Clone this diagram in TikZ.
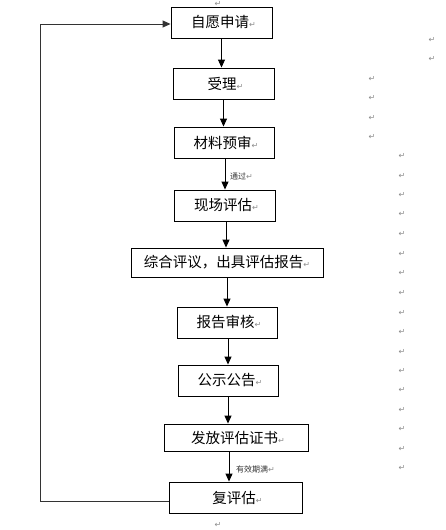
\documentclass[tikz,border=0pt]{standalone}
\usepackage{fontspec}
\setmainfont{DejaVu Sans}
\newfontfamily\cjk{Noto Sans CJK SC}
\newfontfamily\markfont{DejaVu Sans}
\usetikzlibrary{arrows.meta}
\newcommand{\pmk}{{\markfont\fontsize{8pt}{8pt}\selectfont\color{gray!90}↵}}
\tikzset{
  box/.style={draw=black, line width=0.9pt, inner sep=0pt, font=\cjk\fontsize{14.5pt}{15pt}\selectfont},
  flow/.style={draw=black, line width=1pt, -{Triangle[length=8pt,width=7pt]}},
  fb/.style={draw=black!80, line width=1pt, -{Triangle[length=8pt,width=7pt]}},
  lbl/.style={inner sep=0pt, font=\cjk\fontsize{8pt}{8pt}\selectfont, text=black!80},
  pmark/.style={inner sep=0pt, font=\markfont\fontsize{8pt}{8pt}\selectfont, text=gray!90}
}
\begin{document}
\begin{tikzpicture}[x=1pt,y=-1pt]
\useasboundingbox (0,0) rectangle (446,530);
\fill[white] (0,0) rectangle (446,530);
% boxes
\node[box, minimum width=101pt, minimum height=31pt] (b1) at (221.5,22.5) {\hspace*{4pt}自愿申请\pmk};
\node[box, minimum width=101pt, minimum height=31pt] (b2) at (223.5,83.5) {\hspace*{4pt}受理\pmk};
\node[box, minimum width=100pt, minimum height=31pt] (b3) at (224,142.5) {\hspace*{4pt}材料预审\pmk};
\node[box, minimum width=101pt, minimum height=31pt] (b4) at (224.5,205.5) {\hspace*{4pt}现场评估\pmk};
\node[box, minimum width=192pt, minimum height=29pt] (b5) at (227,262.5) {综合评议，出具评估报告\pmk};
\node[box, minimum width=100pt, minimum height=31pt] (b6) at (227,322.5) {\hspace*{4pt}报告审核\pmk};
\node[box, minimum width=100pt, minimum height=31pt] (b7) at (228,380.5) {\hspace*{4pt}公示公告\pmk};
\node[box, minimum width=144pt, minimum height=27pt] (b8) at (236,437.5) {\hspace*{4pt}发放评估证书\pmk};
\node[box, minimum width=133pt, minimum height=31pt] (b9) at (235.5,497.5) {\hspace*{4pt}复评估\pmk};
% connectors
\draw[flow] (b1.south) -- (b1.south |- b2.north);
\draw[flow] (b2.south) -- (b2.south |- b3.north);
\draw[flow] ([xshift=1pt]b3.south) -- ([xshift=1pt]b3.south |- b4.north);
\draw[flow] ([xshift=1.5pt]b4.south) -- ([xshift=1.5pt]b4.south |- b5.north);
\draw[flow] (b5.south) -- (b5.south |- b6.north);
\draw[flow] ([xshift=1pt]b6.south) -- ([xshift=1pt]b6.south |- b7.north);
\draw[flow] (b7.south) -- (b7.south |- b8.north);
\draw[flow] ([xshift=-7pt]b8.south) -- ([xshift=-7pt]b8.south |- b9.north);
% feedback loop
\coordinate (lft) at (40,0);
\draw[fb] ([yshift=-4pt]b9.west) -- ([yshift=-4pt]b9.west -| lft) -- ([yshift=-1.5pt]b1.west -| lft) -- ([yshift=-1.5pt]b1.west);
% labels
\node[lbl, anchor=west] (l1) at (230,176) {通过\pmk};
\node[lbl, anchor=west] (l2) at (236,469) {有效期满\pmk};
% paragraph marks
\node[pmark] (m0) at (218,4) {↵};
\node[pmark] (m1) at (432,40) {↵};
\node[pmark] (m2) at (432,59) {↵};
\foreach \yy [count=\i] in {79,98,118,137} {\node[pmark] (ma\i) at (372,\yy) {↵};}
\foreach \yy [count=\i] in {156,176,195,214,234,254,273,293,313,332,352,371,390,410,429,449,468} {\node[pmark] (mb\i) at (402,\yy) {↵};}
\node[pmark] (m3) at (218,525) {↵};
\end{tikzpicture}
\end{document}
